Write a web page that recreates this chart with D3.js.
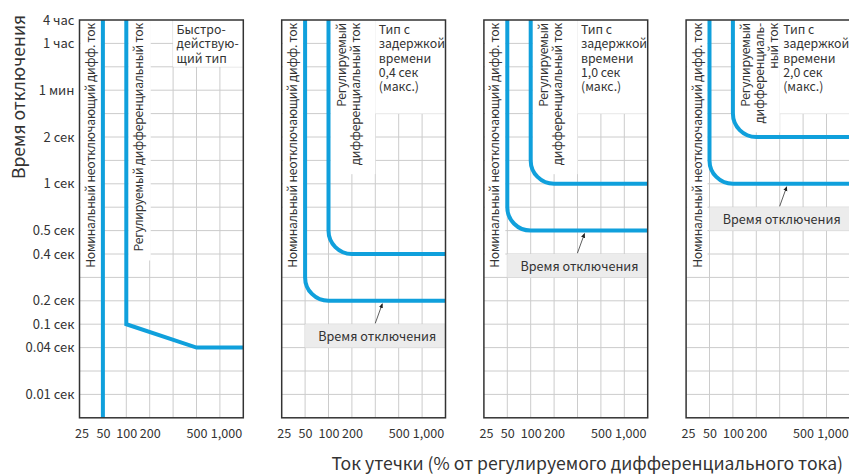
<!DOCTYPE html>
<html>
<head>
<meta charset="utf-8">
<style>
  body { margin: 0; background: #fff; }
  svg { display: block; font-family: 'Noto Sans CJK JP', 'Noto Sans', sans-serif; }
  .grid line { stroke: #cccccc; stroke-width: 1; }
  .frame { fill: none; stroke: #333; stroke-width: 1.5; }
  .curve { fill: none; stroke: #10a0dc; stroke-width: 4; }
  .lbl { fill: #333; font-size: 12.2px; }
  .rot { letter-spacing: -0.25px; }
  .axis text { fill: #333; font-size: 12.6px; font-family: 'Noto Sans CJK JP', 'Noto Sans', sans-serif; }
</style>
</head>
<body>
<svg id="chart" width="849" height="474"></svg>
<script src="https://cdn.jsdelivr.net/npm/d3@7"></script>
<script>
// x: leakage current, % of rated residual current
const xTickValues = [25, 50, 100, 200, 500, 1000];
const xTickLabels = ["25", "50", "100", "200", "500", "1,000"];
// y: operating time in seconds
const yTickValues = [14400, 3600, 60, 2, 1, 0.5, 0.4, 0.2, 0.1, 0.04, 0.01];
const yTickLabels = ["4 час", "1 час", "1 мин", "2 сек", "1 сек", "0.5 сек", "0.4 сек", "0.2 сек", "0.1 сек", "0.04 сек", "0.01 сек"];

const nonTripCurrent = 50;   // номинальный неотключающий
const ratedCurrent = 100;    // регулируемый
// panel 1 - instantaneous: [current, time]
const instPoints = [[100, 0.1], [500, 0.04]];
// panels 2-4 - time delay: knee times
const nonTripTimes = [0.2, 0.5, 1];
const tripTimes = [0.4, 1, 2];

const typeLabels = [
  ["Быстро-", "действую-", "щий тип"],
  ["Тип с", "задержкой", "времени", "0,4 сек", "(макс.)"],
  ["Тип с", "задержкой", "времени", "1,0 сек", "(макс.)"],
  ["Тип с", "задержкой", "времени", "2,0 сек", "(макс.)"]
];
const regLabels = [
  ["Регулируемый дифференциальный ток"],
  ["Регулируемый", "дифференциальный ток"],
  ["Регулируемый", "дифференциальный ток"],
  ["Регулируемый", "дифференциаль-", "ный ток"]
];
const nominalLabel = "Номинальный неотключающий дифф. ток";
const calloutLabel = "Время отключения";
const yTitle = "Время отключения";
const xTitle = "Ток утечки (% от регулируемого дифференциального тока)";

// layout
const cell = 23.4;
const xGridIndex = [0, 1, 2, 3, 5, 6];
const yGridIndex = [0, 1, 3, 5, 7, 9, 10, 12, 13, 14, 16];
const nCols = 7, nRows = 17;
const w = nCols * cell, h = nRows * cell;
const marginTop = 20;
const panelLeft = [79.5, 281.7, 483.9, 686.1];

const x = d3.scaleLinear().domain(xTickValues).range(xGridIndex.map(i => i * cell));
const y = d3.scaleLinear().domain(yTickValues).range(yGridIndex.map(i => i * cell));

const svg = d3.select("#chart");

const defs = svg.append("defs");
defs.append("marker")
  .attr("id", "arr")
  .attr("viewBox", "0 0 8 8")
  .attr("refX", 7).attr("refY", 4)
  .attr("markerWidth", 6).attr("markerHeight", 6)
  .attr("orient", "auto")
  .append("path").attr("d", "M0,0.5 L8,4 L0,7.5 z").attr("fill", "#222");

panelLeft.forEach((left, p) => {
  const g = svg.append("g").attr("transform", `translate(${left},${marginTop})`);

  g.append("rect").attr("width", w).attr("height", h).attr("fill", "#fff");

  const grid = g.append("g").attr("class", "grid");
  grid.selectAll(".v").data(d3.range(1, nCols)).join("line")
    .attr("class", "v")
    .attr("x1", d => d * cell).attr("x2", d => d * cell)
    .attr("y1", 0).attr("y2", h);
  grid.selectAll(".h").data(d3.range(1, nRows)).join("line")
    .attr("class", "h")
    .attr("y1", d => d * cell).attr("y2", d => d * cell)
    .attr("x1", 0).attr("x2", w);

  // nominal non-trip label, vertical
  const nomBox = g.append("rect").attr("fill", "#fff");
  const nomText = g.append("text").attr("class", "lbl rot")
    .attr("text-anchor", "end")
    .attr("transform", `translate(${x(nonTripCurrent) - 8},3) rotate(-90)`)
    .text(nominalLabel);
  const nomLen = nomText.node().getComputedTextLength();
  nomBox.attr("x", 1).attr("y", 0).attr("width", x(nonTripCurrent) - 3).attr("height", nomLen + 6);

  // regulated current label
  const lines = regLabels[p];
  const regBox = g.append("rect").attr("fill", "#fff");
  let regLen = 0;
  lines.forEach((ln, i) => {
    const t = g.append("text").attr("class", "lbl rot")
      .attr("text-anchor", "end")
      .attr("transform", `translate(${x(ratedCurrent) + 17 + i * 14},3) rotate(-90)`)
      .text(ln);
    regLen = Math.max(regLen, t.node().getComputedTextLength());
  });
  const regRight = lines.length > 1 ? x(350) : x(200) + 1;
  regBox.attr("x", x(ratedCurrent) + 2).attr("y", 0)
    .attr("width", regRight - x(ratedCurrent) - 2).attr("height", regLen + 12);

  // type label, top-right
  const tl = typeLabels[p];
  const tlH = Math.ceil((tl.length * 14 + 4) / cell) * cell;
  g.append("rect").attr("x", x(350)).attr("y", 0)
    .attr("width", w - x(350)).attr("height", tlH).attr("fill", "#fff");
  g.append("text").attr("class", "lbl").style("font-size", "12.3px")
    .selectAll("tspan").data(tl).join("tspan")
    .attr("x", x(350) + 3.5)
    .attr("y", (d, i) => 14 + i * 14.3)
    .text(d => d);

  // curves
  if (p === 0) {
    g.append("path").attr("class", "curve")
      .attr("d", d3.line()([[x(nonTripCurrent), 0], [x(nonTripCurrent), h]]));
    const pts = [[x(ratedCurrent), 0]]
      .concat(instPoints.map(d => [x(d[0]), y(d[1])]))
      .concat([[w, y(instPoints[instPoints.length - 1][1])]]);
    g.append("path").attr("class", "curve").attr("d", d3.line()(pts));
  } else {
    const knees = [[nonTripCurrent, nonTripTimes[p - 1]], [ratedCurrent, tripTimes[p - 1]]];
    knees.forEach(([c, t]) => {
      const path = d3.path();
      path.moveTo(x(c), 0);
      path.arcTo(x(c), y(t), w, y(t), cell);
      path.lineTo(w, y(t));
      g.append("path").attr("class", "curve").attr("d", path.toString());
    });

    // callout
    const ly = y(nonTripTimes[p - 1]);
    const by = ly + cell;
    g.append("rect").attr("x", x(nonTripCurrent)).attr("y", by)
      .attr("width", w - x(nonTripCurrent)).attr("height", cell).attr("fill", "#ececec");
    g.append("text").attr("class", "lbl").style("font-size", "12.6px")
      .attr("x", (x(nonTripCurrent) + w) / 2 + 2).attr("y", by + cell / 2 + 5)
      .attr("text-anchor", "middle")
      .text(calloutLabel);
    g.append("line")
      .attr("x1", x(350)).attr("y1", by - 1)
      .attr("x2", x(350) + 7).attr("y2", ly + 3)
      .attr("stroke", "#333").attr("stroke-width", 0.8)
      .attr("marker-end", "url(#arr)");
  }

  g.append("rect").attr("class", "frame").attr("width", w).attr("height", h);

  // x axis
  g.append("g").attr("class", "axis")
    .attr("transform", `translate(0,${h})`)
    .call(d3.axisBottom(x).tickValues(xTickValues)
      .tickFormat((d, i) => xTickLabels[i]).tickSize(0).tickPadding(11))
    .call(a => a.select(".domain").remove())
    .call(a => a.selectAll(".tick text")
      .attr("dx", (d, i) => i === xTickValues.length - 1 ? 6 : (i === 0 ? 2 : 0)));

  if (p === 0) {
    g.append("g").attr("class", "axis")
      .call(d3.axisLeft(y).tickValues(yTickValues)
        .tickFormat((d, i) => yTickLabels[i]).tickSize(0).tickPadding(5))
      .call(a => a.select(".domain").remove())
      .call(a => a.selectAll(".tick text").style("font-size", "13px"));
  }
});

svg.append("text")
  .attr("transform", "translate(25,97) rotate(-90)")
  .attr("text-anchor", "middle")
  .attr("fill", "#333").style("font-size", "17.5px")
  .text(yTitle);

svg.append("text")
  .attr("x", 843).attr("y", 470)
  .attr("text-anchor", "end")
  .attr("fill", "#333").style("font-size", "17.6px")
  .text(xTitle);
</script>
</body>
</html>
